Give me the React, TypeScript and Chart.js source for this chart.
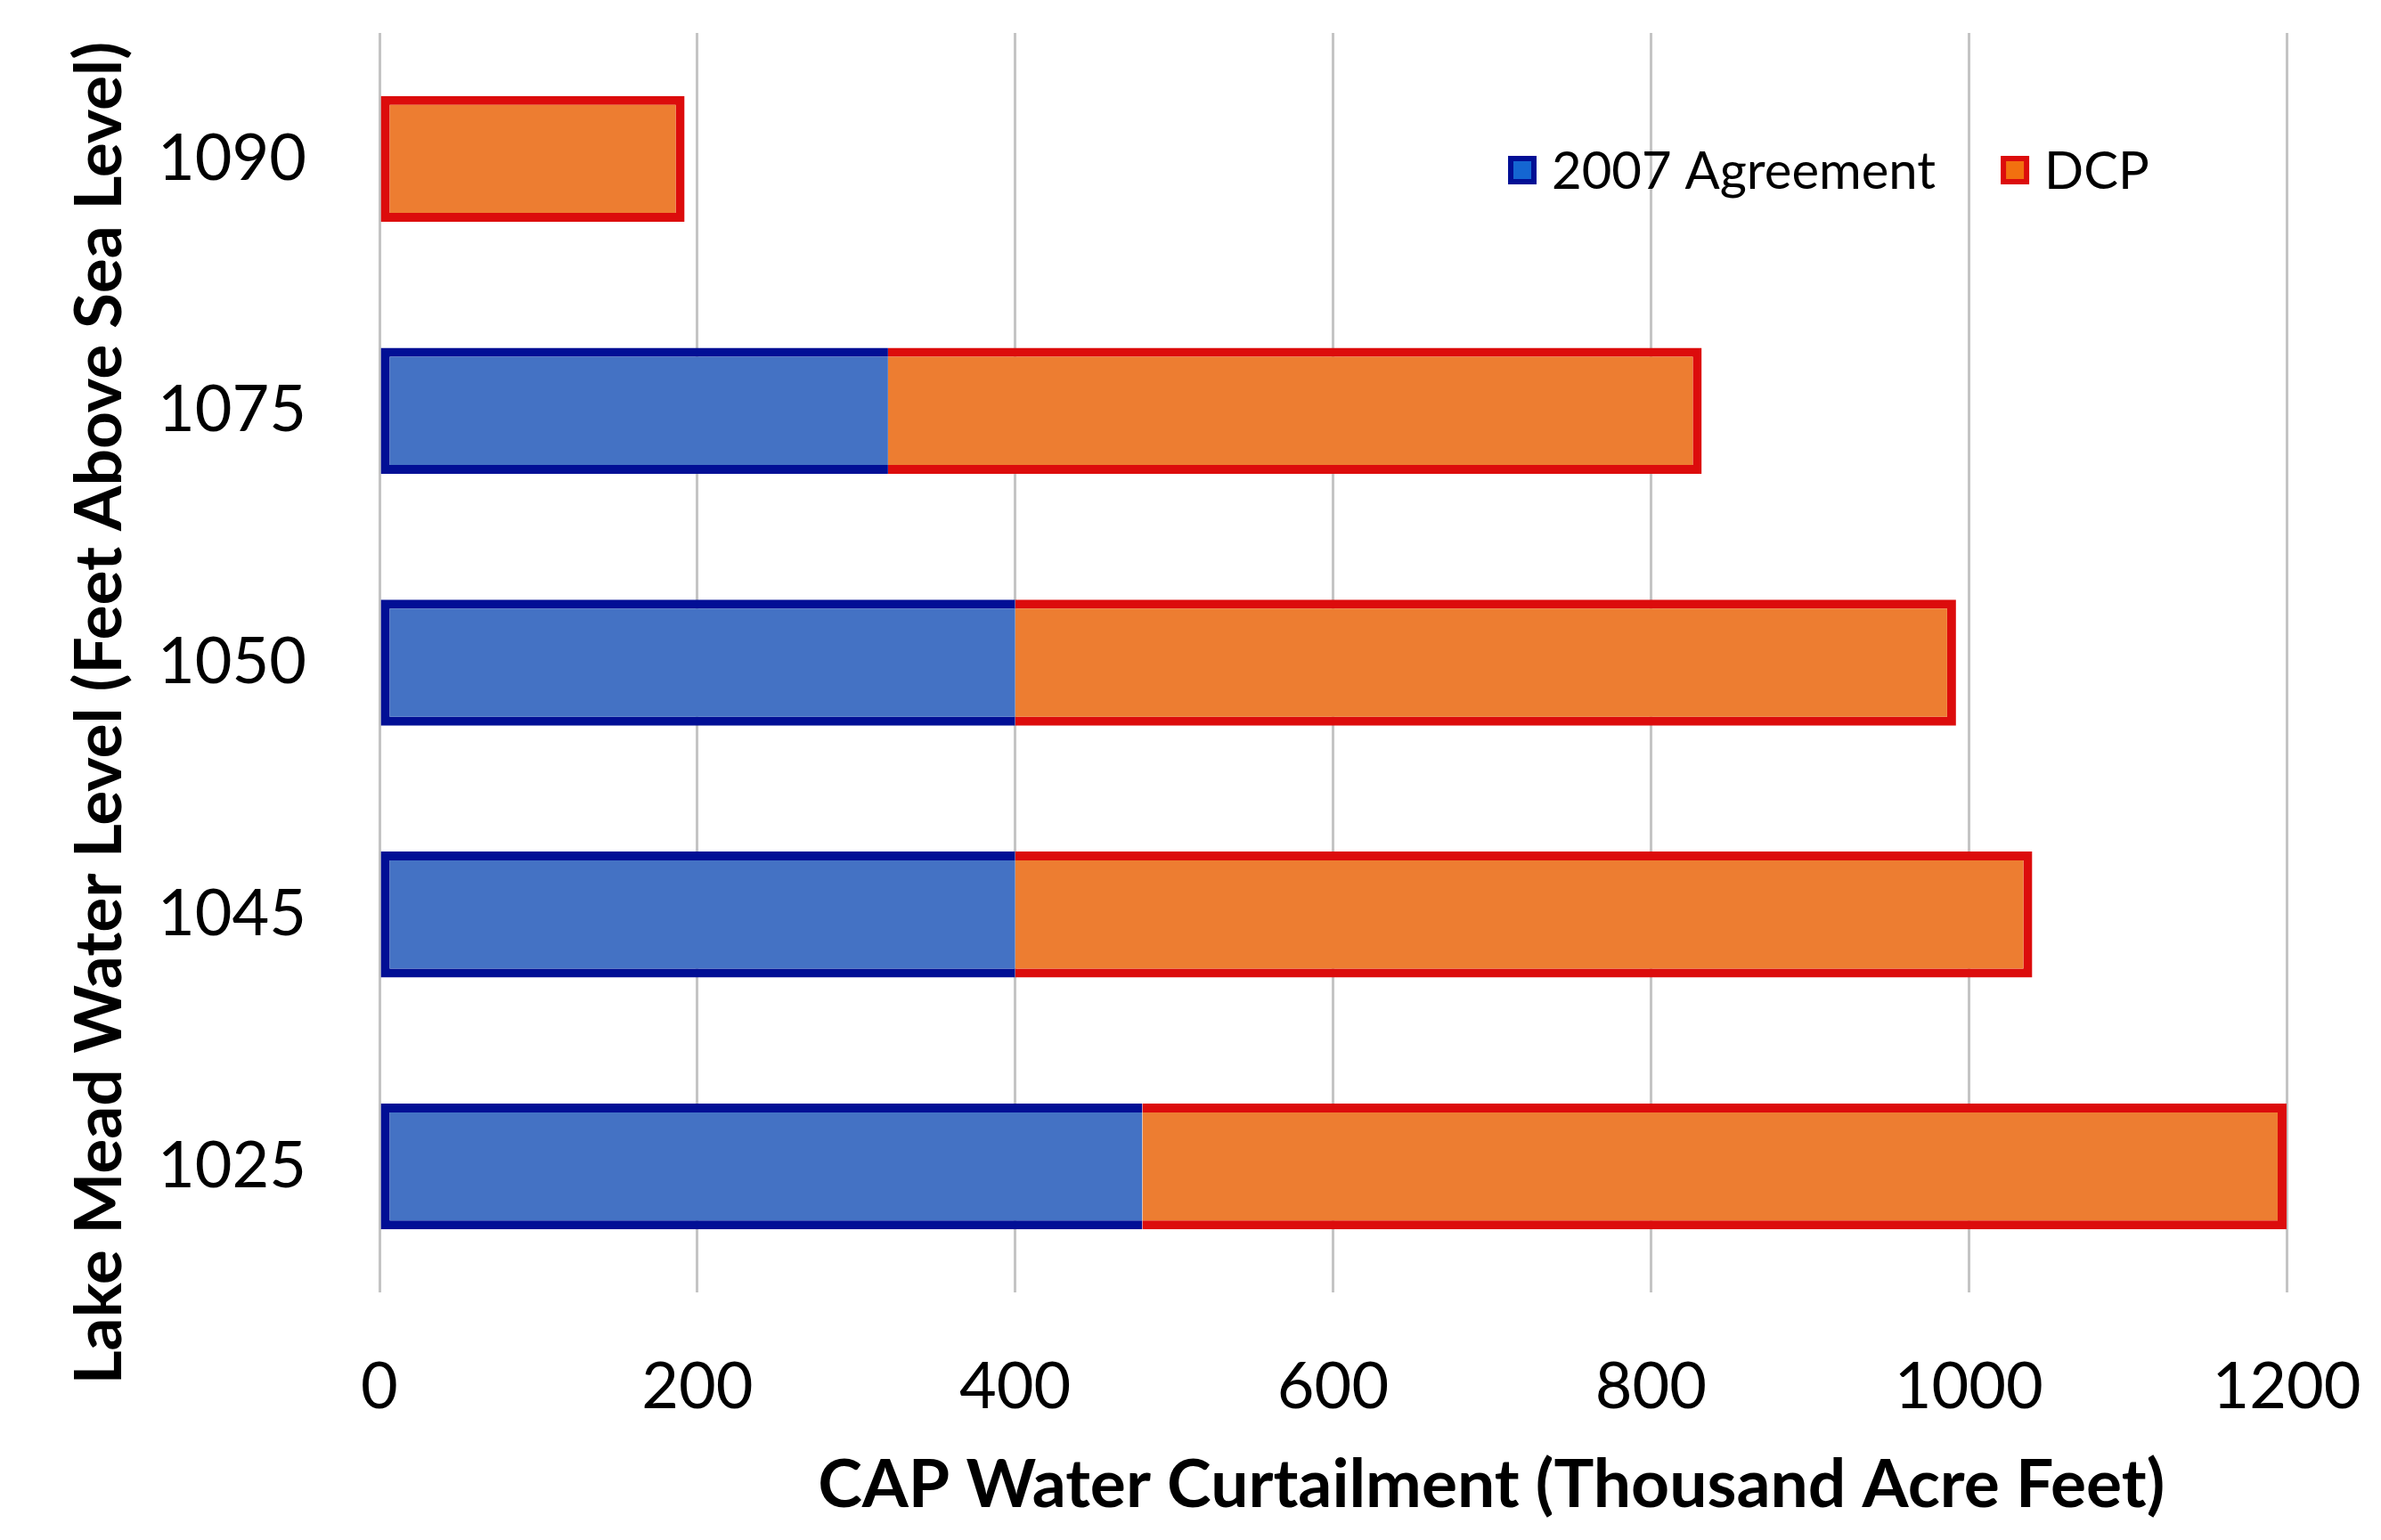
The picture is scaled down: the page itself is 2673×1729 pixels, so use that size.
import React, { useEffect, useRef } from 'react';
import { Chart, registerables } from 'chart.js';

Chart.register(...registerables);

// ---- data ----
const levels = ['1090', '1075', '1050', '1045', '1025'];
const agreement2007 = [0, 320, 400, 400, 480];
const dcp = [192, 512, 592, 640, 720];
const xTickValues = [0, 200, 400, 600, 800, 1000, 1200];
const seriesNames = ['2007 Agreement', 'DCP'];
const xTitle = 'CAP Water Curtailment (Thousand Acre Feet)';
const yTitle = 'Lake Mead Water Level (Feet Above Sea Level)';

// ---- layout / style ----
const W = 2673;
const H = 1729;
const AREA = { left: 426, right: 2567, top: 37, bottom: 1451 };
const FONT = 'Lato, "Open Sans", sans-serif';
const BLUE_FILL = '#4472c4';
const BLUE_EDGE = '#020f95';
const BLUE_KEY = '#1466d2';
const ORANGE_FILL = '#ed7d31';
const ORANGE_EDGE = '#dc0c0c';
const ORANGE_KEY = '#f2700f';
const EDGE = 10;

const decorPlugin = {
  id: 'decor',
  afterDraw(chart: any) {
    const ctx = chart.ctx as CanvasRenderingContext2D;
    const ca = chart.chartArea;
    ctx.save();
    ctx.fillStyle = '#000';
    // axis titles
    ctx.textAlign = 'center';
    ctx.textBaseline = 'middle';
    ctx.font = `bold 75px ${FONT}`;
    ctx.fillText(xTitle, ca.left + (ca.right - ca.left) * 0.583, 1668);
    ctx.save();
    ctx.font = `bold 73px ${FONT}`;
    ctx.translate(112, ca.top + (ca.bottom - ca.top) * 0.54);
    ctx.rotate(-Math.PI / 2);
    ctx.fillText(yTitle, 0, 0);
    ctx.restore();

    // legend inside the plot area
    ctx.font = `58px ${FONT}`;
    ctx.textAlign = 'left';
    const cy = 191;
    const box = 32;
    let x = 1693;
    chart.data.datasets.forEach((ds: any, i: number) => {
      const edge = i === 0 ? BLUE_EDGE : ORANGE_EDGE;
      const key = i === 0 ? BLUE_KEY : ORANGE_KEY;
      ctx.fillStyle = edge;
      ctx.fillRect(x, cy - box / 2, box, box);
      ctx.fillStyle = key;
      ctx.fillRect(x + 6, cy - box / 2 + 6, box - 12, box - 12);
      ctx.fillStyle = '#000';
      ctx.fillText(ds.label, x + 49, cy + 2);
      const w = ctx.measureText(ds.label).width;
      x = x + 49 + w + 73;
    });
    ctx.restore();
  },
};

export default function App() {
  const ref = useRef<HTMLCanvasElement | null>(null);

  useEffect(() => {
    document.body.style.margin = '0';
    document.body.style.overflow = 'hidden';
    const canvas = ref.current;
    if (!canvas) return;
    const chart = new Chart(canvas, {
      type: 'bar',
      data: {
        labels: levels,
        datasets: [
          {
            label: seriesNames[0],
            data: agreement2007,
            backgroundColor: BLUE_FILL,
            borderColor: BLUE_EDGE,
            borderWidth: { left: EDGE, top: EDGE, bottom: EDGE, right: 0 },
            borderSkipped: false,
          },
          {
            label: seriesNames[1],
            data: dcp,
            backgroundColor: ORANGE_FILL,
            borderColor: ORANGE_EDGE,
            borderWidth: (c: any) => ({
              left: agreement2007[c.dataIndex] > 0 ? 0 : EDGE,
              top: EDGE,
              bottom: EDGE,
              right: EDGE,
            }),
            borderSkipped: false,
          },
        ],
      },
      options: {
        indexAxis: 'y',
        responsive: false,
        animation: false,
        layout: { padding: { top: AREA.top, right: W - AREA.right, left: 0, bottom: 0 } },
        datasets: { bar: { categoryPercentage: 1, barPercentage: 0.5 } },
        plugins: { legend: { display: false }, tooltip: { enabled: false }, title: { display: false } },
        scales: {
          x: {
            stacked: true,
            min: 0,
            max: 1200,
            afterBuildTicks: (s: any) => {
              s.ticks = xTickValues.map((v) => ({ value: v }));
            },
            afterFit: (s: any) => {
              s.height = H - AREA.bottom;
              s.paddingLeft = 0;
              s.paddingRight = 0;
            },
            grid: { color: '#c4c4c4', lineWidth: 3, drawTicks: false },
            border: { display: false },
            ticks: {
              font: { family: FONT, size: 72 },
              color: '#000',
              padding: 64,
              maxRotation: 0,
              callback: (v: any) => String(v),
            },
          },
          y: {
            stacked: true,
            afterFit: (s: any) => {
              s.width = AREA.left;
              s.paddingTop = 0;
              s.paddingBottom = 0;
            },
            grid: { display: false, drawTicks: false },
            border: { display: false },
            ticks: { font: { family: FONT, size: 72 }, color: '#000', padding: 82 },
          },
        },
      },
      plugins: [decorPlugin],
    } as any);
    return () => chart.destroy();
  }, []);

  return (
    <div style={{ width: W, height: H, background: '#fff' }}>
      <canvas ref={ref} width={W} height={H} style={{ display: 'block' }} />
    </div>
  );
}
